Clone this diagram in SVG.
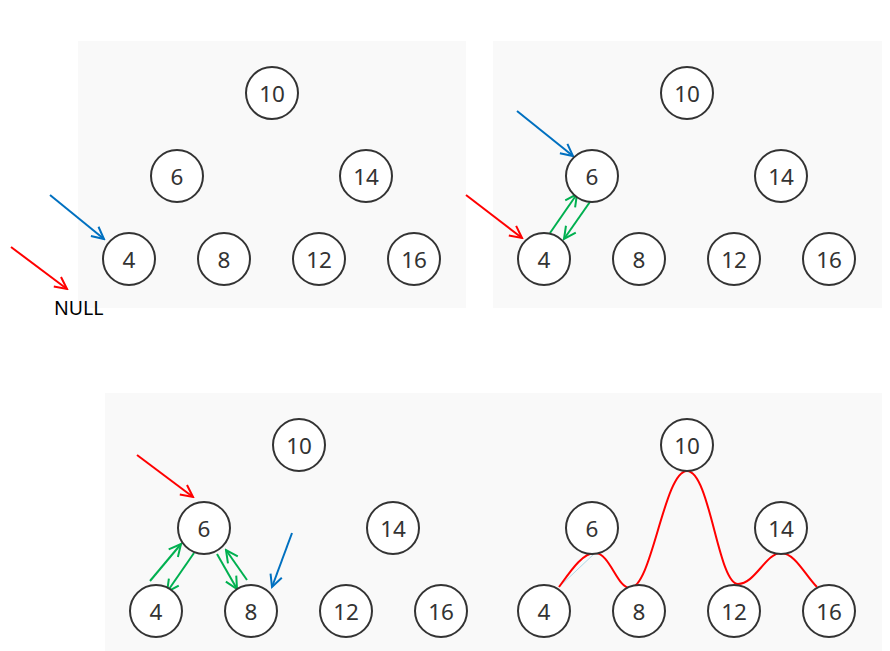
<svg xmlns="http://www.w3.org/2000/svg" width="890" height="651" viewBox="0 0 890 651">
<style>
.bg{fill:#f9f9f9}
.n circle{fill:#fff;stroke:#333;stroke-width:2}
.n text{font-family:"Noto Sans","Open Sans",sans-serif;font-size:22.5px;fill:#333;text-anchor:middle;dominant-baseline:central}
.a{fill:none;stroke-width:2}
.r{stroke:#ff0000}.b{stroke:#0070c0}.g{stroke:#00b050}
</style>
<defs>
<marker id="mr" markerUnits="userSpaceOnUse" markerWidth="16" markerHeight="16" refX="0" refY="0" viewBox="-14 -8 16 16" orient="auto"><path d="M-12,-6 L0,0 L-12,6" fill="none" stroke="#ff0000" stroke-width="2"/></marker>
<marker id="mb" markerUnits="userSpaceOnUse" markerWidth="16" markerHeight="16" refX="0" refY="0" viewBox="-14 -8 16 16" orient="auto"><path d="M-12,-6 L0,0 L-12,6" fill="none" stroke="#0070c0" stroke-width="2"/></marker>
<marker id="mg" markerUnits="userSpaceOnUse" markerWidth="16" markerHeight="16" refX="0" refY="0" viewBox="-14 -8 16 16" orient="auto"><path d="M-12,-6 L0,0 L-12,6" fill="none" stroke="#00b050" stroke-width="2"/></marker>
</defs>
<rect class="bg" x="78" y="41" width="388" height="267"/>
<rect class="bg" x="493" y="41" width="389" height="267"/>
<rect class="bg" x="105" y="393" width="777" height="258"/>

<g id="connectors">
<line class="a b" x1="50" y1="195" x2="104" y2="239" marker-end="url(#mb)"/>
<line class="a r" x1="11" y1="247" x2="67" y2="289" marker-end="url(#mr)"/>
<line class="a b" x1="517" y1="111" x2="573" y2="156" marker-end="url(#mb)"/>
<line class="a r" x1="466" y1="195" x2="522" y2="238" marker-end="url(#mr)"/>
<line class="a g" x1="550" y1="233" x2="577" y2="194" marker-end="url(#mg)"/>
<line class="a g" x1="592" y1="199" x2="564" y2="239" marker-end="url(#mg)"/>
<line class="a r" x1="137" y1="455" x2="193" y2="497" marker-end="url(#mr)"/>
<line class="a b" x1="292" y1="533" x2="272" y2="587" marker-end="url(#mb)"/>
<line class="a g" x1="150" y1="581" x2="181" y2="544" marker-end="url(#mg)"/>
<line class="a g" x1="194" y1="553" x2="167" y2="592" marker-end="url(#mg)"/>
<line class="a g" x1="217" y1="554" x2="237" y2="589" marker-end="url(#mg)"/>
<line class="a g" x1="247" y1="580" x2="226" y2="550" marker-end="url(#mg)"/>
<line x1="559" y1="587" x2="595" y2="553" stroke="#add8e6" stroke-width="1"/>
<path class="a r" stroke-width="1.6" d="M559,587 C570,572 582,553 595,553 C610,553 617,588 630,588 C652,588 664,471 687,471 C710,471 718,584 738,584 C755,584 766,553 781,553 C795,553 805,575 817,587"/>
</g>

<text x="54" y="315" font-family="'Noto Sans','Open Sans',sans-serif" font-size="19.5" fill="#000">NULL</text>

<g id="p1-10" class="n"><circle cx="272" cy="93" r="26"/><text x="272" y="93">10</text></g>
<g id="p1-6" class="n"><circle cx="177" cy="176" r="26"/><text x="177" y="176">6</text></g>
<g id="p1-14" class="n"><circle cx="366" cy="176" r="26"/><text x="366" y="176">14</text></g>
<g id="p1-4" class="n"><circle cx="129" cy="259" r="26"/><text x="129" y="259">4</text></g>
<g id="p1-8" class="n"><circle cx="224" cy="259" r="26"/><text x="224" y="259">8</text></g>
<g id="p1-12" class="n"><circle cx="319" cy="259" r="26"/><text x="319" y="259">12</text></g>
<g id="p1-16" class="n"><circle cx="414" cy="259" r="26"/><text x="414" y="259">16</text></g>

<g id="p2-10" class="n"><circle cx="687" cy="93" r="26"/><text x="687" y="93">10</text></g>
<g id="p2-6" class="n"><circle cx="592" cy="176" r="26"/><text x="592" y="176">6</text></g>
<g id="p2-14" class="n"><circle cx="781" cy="176" r="26"/><text x="781" y="176">14</text></g>
<g id="p2-4" class="n"><circle cx="544" cy="259" r="26"/><text x="544" y="259">4</text></g>
<g id="p2-8" class="n"><circle cx="639" cy="259" r="26"/><text x="639" y="259">8</text></g>
<g id="p2-12" class="n"><circle cx="734" cy="259" r="26"/><text x="734" y="259">12</text></g>
<g id="p2-16" class="n"><circle cx="829" cy="259" r="26"/><text x="829" y="259">16</text></g>

<g id="p3-10" class="n"><circle cx="299" cy="445" r="26"/><text x="299" y="445">10</text></g>
<g id="p3-6" class="n"><circle cx="204" cy="528" r="26"/><text x="204" y="528">6</text></g>
<g id="p3-14" class="n"><circle cx="393" cy="528" r="26"/><text x="393" y="528">14</text></g>
<g id="p3-4" class="n"><circle cx="156" cy="611" r="26"/><text x="156" y="611">4</text></g>
<g id="p3-8" class="n"><circle cx="251" cy="611" r="26"/><text x="251" y="611">8</text></g>
<g id="p3-12" class="n"><circle cx="346" cy="611" r="26"/><text x="346" y="611">12</text></g>
<g id="p3-16" class="n"><circle cx="441" cy="611" r="26"/><text x="441" y="611">16</text></g>

<g id="p4-10" class="n"><circle cx="687" cy="445" r="26"/><text x="687" y="445">10</text></g>
<g id="p4-6" class="n"><circle cx="592" cy="528" r="26"/><text x="592" y="528">6</text></g>
<g id="p4-14" class="n"><circle cx="781" cy="528" r="26"/><text x="781" y="528">14</text></g>
<g id="p4-4" class="n"><circle cx="544" cy="611" r="26"/><text x="544" y="611">4</text></g>
<g id="p4-8" class="n"><circle cx="639" cy="611" r="26"/><text x="639" y="611">8</text></g>
<g id="p4-12" class="n"><circle cx="734" cy="611" r="26"/><text x="734" y="611">12</text></g>
<g id="p4-16" class="n"><circle cx="829" cy="611" r="26"/><text x="829" y="611">16</text></g>
</svg>
